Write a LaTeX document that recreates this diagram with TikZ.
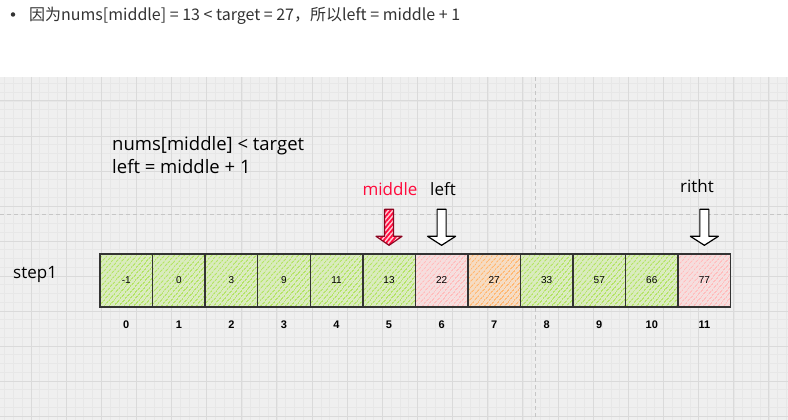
\documentclass[tikz,border=0pt]{standalone}
\usepackage{fontspec}
\setmainfont{Liberation Sans}
\newfontfamily\handfont{Open Sans}
\newfontfamily\cjkfont{Noto Sans CJK SC}
\usetikzlibrary{patterns.meta}
\definecolor{canvas}{HTML}{EFEFEF}
\definecolor{minorgrid}{HTML}{E7E7E7}
\definecolor{majorgrid}{HTML}{DADADA}
\definecolor{guide}{HTML}{C6C6C6}
\definecolor{cellgreen}{HTML}{B4E366}
\definecolor{cellpink}{HTML}{FFBDBD}
\definecolor{cellorange}{HTML}{FFB873}
\definecolor{ink}{HTML}{333333}
\definecolor{pointred}{HTML}{FF0A3C}

\begin{document}
\begin{tikzpicture}[x=1pt, y=-1pt,
			minor/.style={minorgrid, line width=.6pt},
			major/.style={majorgrid, line width=1pt},
			guideline/.style={guide, line width=.8pt, dash pattern=on 4pt off 3pt},
			hatched/.style={preaction={fill=#1!35!canvas},
				pattern={Lines[angle=50, distance=4pt, line width=1.6pt]}, pattern color=#1},
			cell/.style={draw=ink, line width=1.4pt, minimum width=52.5pt,
				minimum height=53pt, inner sep=0pt, font=\fontsize{10}{10}\selectfont},
			index/.style={font=\bfseries\fontsize{11}{11}\selectfont},
			hand/.style={font=\handfont\fontsize{17}{23}\selectfont, inner sep=0pt},
			pointer/.style={draw=black, line width=1.2pt, fill=white, line join=round}]
	\useasboundingbox (0,0) rectangle (788,420);
	% bullet line
	\node[circle, fill=ink, inner sep=0pt, minimum size=4.5pt] (bullet) at (13,14.5) {};
	\node[anchor=base west, inner sep=0pt, text=ink, font=\cjkfont\fontsize{16}{16}\selectfont]
		(note) at (29,20.5) {因为nums[middle] = 13 < target = 27，所以left = middle + 1};
	% canvas with grid
	\fill[canvas] (0,77) rectangle (788,420);
	\foreach \k in {-3,...,86}
		\draw[minor] ({31+8.785*\k},77) -- ({31+8.785*\k},420);
	\foreach \k in {-2,...,36}
		\draw[minor] (0,{101+8.75*\k}) -- (788,{101+8.75*\k});
	\foreach \k in {0,...,21}
		\draw[major] ({31+35.14*\k},77) -- ({31+35.14*\k},420);
	\foreach \k in {0,...,9}
		\draw[major] (0,{101+35*\k}) -- (788,{101+35*\k});
	\draw[guideline] (0,214) -- (788,214);
	\draw[guideline] (535,77) -- (535,420);
	% texts
	\node[hand, anchor=base west, align=left, font=\handfont\fontsize{18.5}{23}\selectfont]
		(cond) at (112,173) {nums[middle] < target\\left = middle + 1};
	\node[hand, anchor=base west] (steplabel) at (13,278) {step1};
	% array
	\foreach \v/\c [count=\i from 0] in {-1/cellgreen, 0/cellgreen, 3/cellgreen,
			9/cellgreen, 11/cellgreen, 13/cellgreen, 22/cellpink, 27/cellorange,
			33/cellgreen, 57/cellgreen, 66/cellgreen, 77/cellpink}{
		\node[cell, hatched=\c] (c\i) at ({126.3+52.55*\i},280.5) {\v};
		\node[index] (i\i) at ({126.3+52.55*\i},325) {\i};
	}
	% pointers
	\draw[pointer, draw=pointred!55!black, preaction={fill=pointred!20!white},
		pattern={Lines[angle=50, distance=3.5pt, line width=1.8pt]}, pattern color=pointred]
		(c5.north) ++(0,-8) -- ++(13,-9)
		-- ++(-8.5,0) -- ++(0,-27) -- ++(-9,0) -- ++(0,27) -- ++(-8.5,0) -- cycle;
	\foreach \n in {c6,c11}
		\draw[pointer] (\n.north) ++(0,-8) -- ++(14,-9) -- ++(-9.5,0) -- ++(0,-27)
			-- ++(-9,0) -- ++(0,27) -- ++(-9.5,0) -- cycle;
	\node[hand, anchor=base, text=pointred] (midlabel) at (390,195) {middle};
	\node[hand, anchor=base] (leftlabel) at (443,195) {left};
	\node[hand, anchor=base] (rightlabel) at (697,192) {ritht};
\end{tikzpicture}
\end{document}
